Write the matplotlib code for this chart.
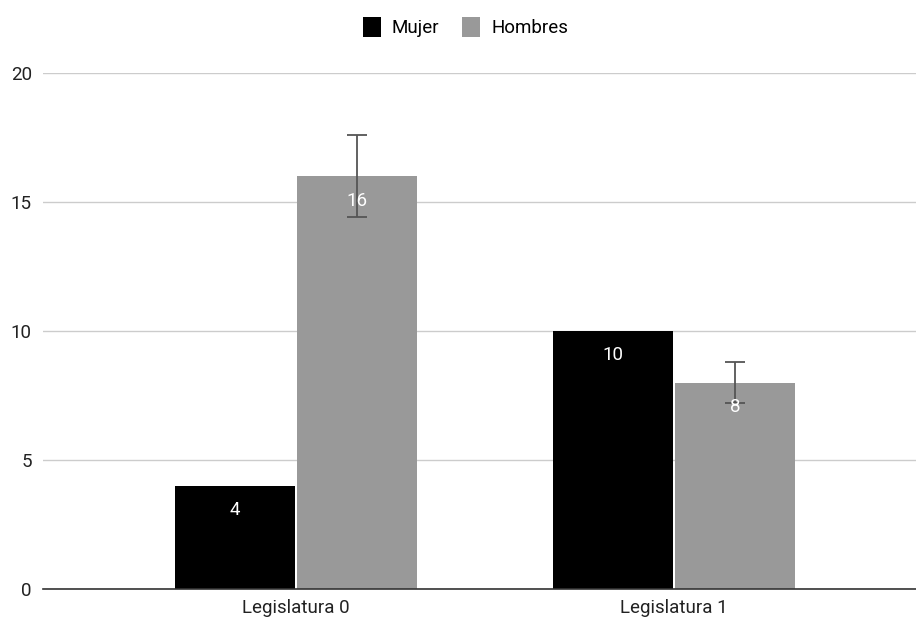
import matplotlib.pyplot as plt
import numpy as np

plt.rcParams['font.family'] = ['Roboto', 'DejaVu Sans']

categories = ["Legislatura 0", "Legislatura 1"]
mujer = [4, 10]
hombres = [16, 8]
hombres_err = [1.6, 0.8]   # 10% error bars

x = np.arange(len(categories))
w = 0.317
off = 0.161

fig = plt.figure(figsize=(9.16, 6.22), dpi=100)
ax = fig.add_axes([43/916, 33/622, 873/916, 516/622])

b1 = ax.bar(x - off, mujer, w, color='#000000', label='Mujer', zorder=3)
b2 = ax.bar(x + off, hombres, w, color='#999999', label='Hombres', zorder=3)
ax.errorbar(x + off, hombres, yerr=hombres_err, fmt='none', ecolor='#555555',
            elinewidth=1.3, capsize=7.5, capthick=1.3, zorder=4)

for bars, vals in ((b1, mujer), (b2, hombres)):
    for rect, v in zip(bars, vals):
        ax.annotate(str(v), (rect.get_x() + rect.get_width() / 2, v),
                    xytext=(0, -17.5), textcoords='offset points',
                    ha='center', va='center', color='white', fontsize=13.5, zorder=5)

ax.set_ylim(0, 20)
ax.set_yticks([0, 5, 10, 15, 20])
ax.set_xlim(-0.669, 1.640)
ax.set_xticks(x)
ax.set_xticklabels(categories)
ax.tick_params(axis='both', length=0, labelsize=13.5, colors='#222222')
ax.tick_params(axis='y', pad=8)
ax.tick_params(axis='x', pad=7)

ax.grid(axis='y', color='#cccccc', linewidth=1, zorder=0)
for s in ['top', 'right', 'left']:
    ax.spines[s].set_visible(False)
ax.spines['bottom'].set_color('#333333')
ax.spines['bottom'].set_linewidth(1.2)
ax.spines['bottom'].set_zorder(6)

fig.legend(handles=[b1, b2], loc='center', bbox_to_anchor=(0.508, 1 - 27/622),
           ncol=2, frameon=False, fontsize=13.5, handlelength=0.95, handleheight=1.3,
           columnspacing=1.2, handletextpad=0.6)

fig.savefig('out.png', dpi=100)
